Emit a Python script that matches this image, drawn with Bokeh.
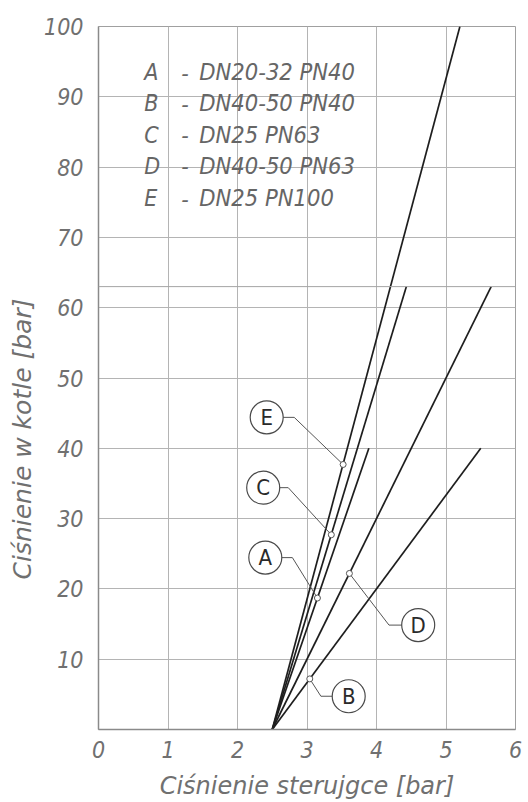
from bokeh.plotting import figure
from bokeh.models import Range1d, FixedTicker, Span, Title
from bokeh.core.properties import value
from bokeh.embed import file_html
from bokeh.resources import INLINE

# ---- data ----
x_ticks = [0, 1, 2, 3, 4, 5, 6]
y_ticks = [10, 20, 30, 40, 50, 60, 70, 80, 90, 100]
y_grid = [0, 10, 20, 30, 40, 50, 60, 70, 80, 90, 100]
pn63_limit = 63

curve_names = ["A", "B", "C", "D", "E"]
x_start = [2.5, 2.5, 2.5, 2.5, 2.5]
y_start = [0, 0, 0, 0, 0]
x_end = [3.89, 5.50, 4.43, 5.65, 5.20]
y_end = [40, 40, 63, 63, 100]

legend_letters = ["A", "B", "C", "D", "E"]
legend_desc = ["DN20-32 PN40", "DN40-50 PN40", "DN25 PN63", "DN40-50 PN63", "DN25 PN100"]
legend_y = [93.5, 89.1, 84.6, 80.2, 75.6]

callout_x = [2.40, 3.60, 2.37, 4.60, 2.42]
callout_y = [24.45, 4.73, 34.4, 14.85, 44.4]
elbow_x = [2.79, 3.20, 2.73, 4.18, 2.816]
marker_x = [3.15, 3.04, 3.35, 3.61, 3.52]
marker_y = [18.7, 7.2, 27.7, 22.2, 37.7]

x_title = "Ciśnienie sterujgce [bar]"
y_title = "Ciśnienie w kotle [bar]"

FONT_NAME = "DejaVu Sans Condensed"
TITLE_FONT = "DejaVu Sans"
FONT = value(FONT_NAME)
GRAY_TXT = "#666666"
AXIS_TXT = "#707070"

p = figure(width=528, height=802, x_range=Range1d(0, 6), y_range=Range1d(0, 100),
           output_backend="svg", toolbar_location=None,
           min_border_left=97, min_border_right=13, min_border_top=26, min_border_bottom=71)
p.outline_line_color = "#a0a0a0"
p.outline_line_width = 1
p.background_fill_color = "white"
p.border_fill_color = "white"

for ax, ticks in ((p.xaxis, x_ticks), (p.yaxis, y_ticks)):
    ax.ticker = FixedTicker(ticks=ticks)
    ax.major_tick_line_color = None
    ax.minor_tick_line_color = None
    ax.axis_line_color = "#8a8a8a"
    ax.axis_line_width = 1.5
    ax.major_label_text_font = FONT_NAME
    ax.major_label_text_font_style = "italic"
    ax.major_label_text_font_size = "23px"
    ax.major_label_text_color = AXIS_TXT
p.xaxis.major_label_standoff = 5
p.yaxis.major_label_standoff = 9

p.xaxis.axis_label = x_title
p.xaxis.axis_label_standoff = 11
p.xaxis.axis_label_text_font = TITLE_FONT
p.xaxis.axis_label_text_font_style = "italic"
p.xaxis.axis_label_text_font_size = "24px"
p.xaxis.axis_label_text_color = AXIS_TXT

p.xgrid.ticker = FixedTicker(ticks=x_ticks)
p.ygrid.ticker = FixedTicker(ticks=y_grid)
for g in (p.xgrid, p.ygrid):
    g.grid_line_color = "#b4b4b4"
    g.grid_line_width = 1

p.add_layout(Span(location=pn63_limit, dimension="width", line_color="#a4a4a4", line_width=1))

# characteristic lines
p.segment(x0=x_start, y0=y_start, x1=x_end, y1=y_end, line_color="#1e1e1e", line_width=1.7)

# leader lines
xs = [[cx, ex, mx] for cx, ex, mx in zip(callout_x, elbow_x, marker_x)]
ys = [[cy, cy, my] for cy, my in zip(callout_y, marker_y)]
p.multi_line(xs=xs, ys=ys, line_color="#555555", line_width=1)
p.scatter(marker_x, marker_y, size=6, fill_color="white", line_color="#555555", line_width=1)
p.scatter(callout_x, callout_y, size=33, fill_color="white", line_color="#4a4a4a", line_width=1.2)
p.text(callout_x, callout_y, text=curve_names, text_align="center", text_baseline="middle",
       text_font=FONT, text_font_size="22px", text_color="#2a2a2a")

# legend text
n = len(legend_letters)
p.text([0.66] * n, legend_y, text=legend_letters, text_baseline="middle", text_font=FONT,
       text_font_style="italic", text_font_size="23px", text_color=GRAY_TXT)
p.text([1.19] * n, legend_y, text=["-"] * n, text_baseline="middle", text_font=FONT,
       text_font_style="italic", text_font_size="23px", text_color=GRAY_TXT)
p.text([1.45] * n, legend_y, text=legend_desc, text_baseline="middle", text_font=FONT,
       text_font_style="italic", text_font_size="23.5px", text_color=GRAY_TXT)

# y axis title, placed lower along the axis as in the reference
p.add_layout(Title(text=y_title, align="left", offset=150,
                   text_font=TITLE_FONT, text_font_style="italic",
                   text_font_size="25px", text_color=AXIS_TXT), "left")

open("out.html", "w").write(file_html(p, INLINE))
